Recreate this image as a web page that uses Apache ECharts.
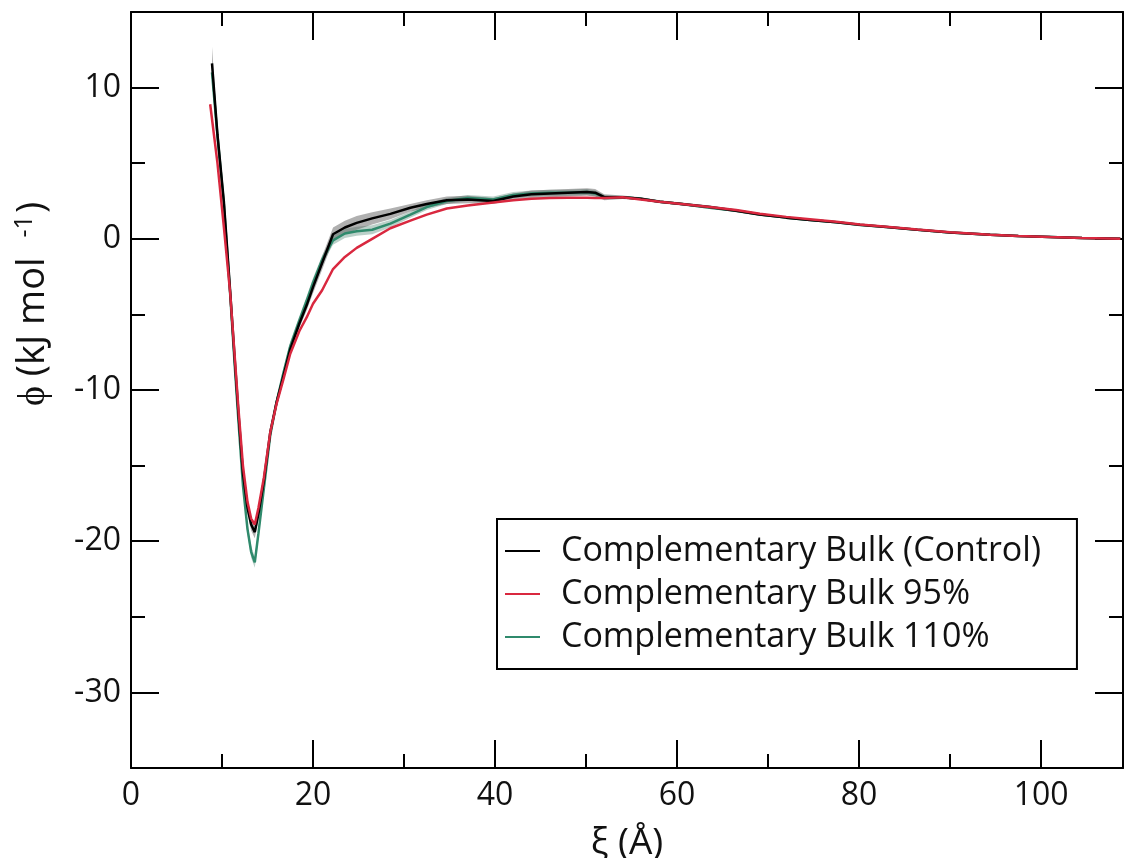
<!DOCTYPE html>
<html>
<head>
<meta charset="utf-8">
<script src="https://cdn.jsdelivr.net/npm/echarts@6/dist/echarts.min.js"></script>
<style>
  html, body { margin: 0; padding: 0; background: #ffffff; }
  #chart { width: 1125px; height: 858px; }
</style>
</head>
<body>
<div id="chart"></div>
<script>
// Axis tick positions
const xLabelTicks = [0, 20, 40, 60, 80, 100];
const xMajorTicks = [0, 20, 40, 60, 80, 100];
const xMinorTicks = [10, 30, 50, 70, 90];
const yLabelTicks = [-30, -20, -10, 0, 10];
const yMajorTicks = [-30, -20, -10, 0, 10];
const yMinorTicks = [-25, -15, -5, 5];

// Separation distance ξ (Å)
const xiControl = [8.9, 9.5, 10.2, 10.9, 11.4, 11.8, 12.3, 12.8, 13.2, 13.6, 14.0, 14.6, 15.3, 16.0, 16.7, 17.5, 18.5, 19.3, 20.0, 21.0, 22.2, 23.5, 24.8, 26.5, 28.5, 30.7, 32.5, 34.7, 37.0, 39.8, 42.0, 44.0, 46.0, 48.0, 50.1, 51.0, 52.0, 54.0, 56.0, 58.1, 60.5, 63.6, 66.5, 69.1, 72.0, 74.6, 77.5, 80.1, 83.0, 86.4, 90.0, 94.4, 97.5, 101.0, 104.5, 108.7];
const xi95 = [8.7, 9.5, 10.2, 10.9, 11.4, 11.8, 12.3, 12.8, 13.2, 13.6, 14.0, 14.6, 15.3, 16.0, 16.7, 17.5, 18.5, 19.3, 20.0, 21.0, 22.2, 23.5, 24.8, 26.5, 28.5, 30.7, 32.5, 34.7, 37.0, 39.8, 42.0, 44.0, 46.0, 48.0, 50.1, 51.0, 52.0, 54.0, 56.0, 58.1, 60.5, 63.6, 66.5, 69.1, 72.0, 74.6, 77.5, 80.1, 83.0, 86.4, 90.0, 94.4, 97.5, 101.0, 104.5, 108.7];
const xi110 = [8.9, 9.5, 10.2, 10.9, 11.4, 11.8, 12.3, 12.8, 13.2, 13.6, 14.0, 14.6, 15.3, 16.0, 16.7, 17.5, 18.5, 19.3, 20.0, 21.0, 22.2, 23.5, 24.8, 26.5, 28.5, 30.7, 32.5, 34.7, 37.0, 39.8, 42.0, 44.0, 46.0, 48.0, 50.1, 51.0, 52.0, 54.0, 56.0, 58.1, 60.5, 63.6, 66.5, 69.1, 72.0, 74.6, 77.5, 80.1, 83.0, 86.4, 90.0, 94.4, 97.5, 101.0, 104.5, 108.7];

// Potential of mean force ϕ (kJ/mol)
const phiControl = [11.6, 6.9, 2.5, -3.5, -8.0, -11.5, -15.5, -17.8, -18.9, -19.4, -18.2, -16.0, -12.8, -10.8, -9.2, -7.3, -5.6, -4.4, -3.2, -1.6, 0.3, 0.75, 1.05, 1.35, 1.65, 2.05, 2.3, 2.55, 2.6, 2.5, 2.8, 2.95, 3.0, 3.05, 3.1, 3.05, 2.75, 2.75, 2.65, 2.45, 2.3, 2.1, 1.85, 1.6, 1.4, 1.25, 1.1, 0.93, 0.78, 0.6, 0.42, 0.26, 0.18, 0.12, 0.06, 0.0];
const phi95 = [8.9, 5.0, 0.8, -3.6, -7.8, -11.2, -15.0, -17.4, -18.5, -18.9, -17.8, -15.8, -12.8, -10.9, -9.4, -7.6, -6.1, -5.2, -4.3, -3.4, -2.0, -1.2, -0.6, 0.0, 0.7, 1.2, 1.6, 2.0, 2.2, 2.4, 2.55, 2.65, 2.7, 2.72, 2.72, 2.7, 2.7, 2.75, 2.6, 2.45, 2.3, 2.1, 1.9, 1.65, 1.45, 1.3, 1.12, 0.95, 0.8, 0.62, 0.44, 0.27, 0.19, 0.12, 0.06, 0.0];
const phi110 = [11.0, 6.8, 2.3, -3.7, -8.4, -12.0, -16.3, -19.2, -20.7, -21.4, -19.5, -16.5, -13.0, -10.8, -9.0, -7.1, -5.4, -4.1, -2.9, -1.4, -0.1, 0.35, 0.5, 0.6, 1.0, 1.6, 2.1, 2.5, 2.7, 2.6, 2.9, 3.0, 3.05, 3.05, 3.1, 3.0, 2.75, 2.75, 2.65, 2.45, 2.3, 2.05, 1.85, 1.6, 1.4, 1.25, 1.1, 0.92, 0.78, 0.6, 0.42, 0.26, 0.18, 0.12, 0.06, 0.0];

// Statistical uncertainty (half-width of the shaded band)
const errControl = [1.1, 0.6, 0.4, 0.3, 0.3, 0.3, 0.3, 0.35, 0.4, 0.4, 0.35, 0.3, 0.3, 0.3, 0.3, 0.3, 0.3, 0.35, 0.4, 0.45, 0.45, 0.45, 0.45, 0.4, 0.35, 0.25, 0.25, 0.25, 0.25, 0.2, 0.2, 0.25, 0.25, 0.25, 0.25, 0.25, 0.2, 0.12, 0.1, 0.1, 0.1, 0.1, 0.1, 0.1, 0.08, 0.08, 0.06, 0.05, 0.05, 0.05, 0.05, 0.04, 0.04, 0.03, 0.03, 0.03];
const err110 = [0.5, 0.4, 0.3, 0.3, 0.3, 0.3, 0.3, 0.35, 0.4, 0.35, 0.35, 0.3, 0.3, 0.3, 0.3, 0.3, 0.3, 0.3, 0.3, 0.3, 0.3, 0.3, 0.3, 0.3, 0.25, 0.2, 0.2, 0.2, 0.2, 0.2, 0.2, 0.2, 0.2, 0.2, 0.2, 0.2, 0.15, 0.1, 0.08, 0.08, 0.08, 0.08, 0.06, 0.06, 0.05, 0.05, 0.05, 0.04, 0.04, 0.04, 0.03, 0.03, 0.03, 0.03, 0.03, 0.03];

const seriesNames = ['Complementary Bulk (Control)', 'Complementary Bulk 95%', 'Complementary Bulk 110%'];
const colors = { control: '#000000', p95: '#d9283f', p110: '#2f8a6c' };

const FONT = 'Open Sans';

function pairs(xs, ys) { return xs.map((x, i) => [x, ys[i]]); }

// Shaded band drawn as one polygon through the axis scales
function bandSeries(xs, ys, es, fill) {
  return {
    type: 'custom',
    silent: true,
    clip: true,
    z: 1,
    data: xs.map((x, i) => [x, ys[i] - es[i], ys[i] + es[i]]),
    encode: { x: 0, y: [1, 2] },
    renderItem: function (params, api) {
      if (params.dataIndex !== 0) return null;
      const upper = xs.map((x, i) => api.coord([x, ys[i] + es[i]]));
      const lower = xs.map((x, i) => api.coord([x, ys[i] - es[i]])).reverse();
      return {
        type: 'polygon',
        shape: { points: upper.concat(lower) },
        style: { fill: fill, stroke: null }
      };
    }
  };
}

const frameStyle = { color: '#000', width: 2 };

function xAxisDef(pos, ticks, len, labels, showLine) {
  return {
    type: 'value', position: pos, min: 0, max: 109,
    axisLine: { show: showLine, onZero: false, lineStyle: frameStyle },
    axisTick: { show: true, inside: true, length: len, customValues: ticks, lineStyle: { color: '#000', width: 2 } },
    axisLabel: labels ? {
      show: true, customValues: labels, margin: 12,
      fontFamily: FONT, fontSize: 32, color: '#111'
    } : { show: false },
    splitLine: { show: false }
  };
}

function yAxisDef(pos, ticks, len, labels, showLine) {
  return {
    type: 'value', position: pos, min: -35, max: 15,
    axisLine: { show: showLine, onZero: false, lineStyle: frameStyle },
    axisTick: { show: true, inside: true, length: len, customValues: ticks, lineStyle: { color: '#000', width: 2 } },
    axisLabel: labels ? {
      show: true, customValues: labels, margin: 10,
      fontFamily: FONT, fontSize: 32, color: '#111'
    } : { show: false },
    splitLine: { show: false }
  };
}

const xBottom = xAxisDef('bottom', xMinorTicks, 14, xLabelTicks, true);
xBottom.name = 'ξ (Å)';
xBottom.nameLocation = 'middle';
xBottom.nameGap = 57;
xBottom.nameTextStyle = { fontFamily: FONT, fontSize: 37, color: '#111' };

const yLeft = yAxisDef('left', yMinorTicks, 14, yLabelTicks, true);
yLeft.name = '{a|ϕ (kJ mol }{s|-1}{a|)}';
yLeft.nameLocation = 'middle';
yLeft.nameGap = 76;
yLeft.nameTextStyle = {
  padding: [0, 0, 0, 172],
  rich: {
    a: { fontFamily: FONT, fontSize: 38, color: '#111' },
    s: { fontFamily: FONT, fontSize: 25, color: '#111', verticalAlign: 'top', padding: [0, 2, 18, 10] }
  }
};

const option = {
  backgroundColor: '#ffffff',
  animation: false,
  grid: { left: 131, right: 2, top: 12, bottom: 90, containLabel: false, outerBoundsMode: 'none' },
  xAxis: [
    xBottom,
    xAxisDef('bottom', xMajorTicks, 28, null, false),
    xAxisDef('top', xMinorTicks, 14, null, true),
    xAxisDef('top', xMajorTicks, 28, null, false)
  ],
  yAxis: [
    yLeft,
    yAxisDef('left', yMajorTicks, 28, null, false),
    yAxisDef('right', yMinorTicks, 14, null, true),
    yAxisDef('right', yMajorTicks, 28, null, false)
  ],
  legend: {
    data: seriesNames,
    orient: 'vertical',
    left: 497, top: 519,
    backgroundColor: '#ffffff',
    borderColor: '#000', borderWidth: 2, borderRadius: 0,
    padding: [15, 36, 15, 8],
    itemGap: 9,
    itemWidth: 35, itemHeight: 2,
    icon: 'rect',
    textStyle: { fontFamily: FONT, fontSize: 34, color: '#111', lineHeight: 34, padding: [0, 0, 0, 16] }
  },
  series: [
    bandSeries(xi110, phi110, err110, 'rgba(60,120,100,0.35)'),
    bandSeries(xiControl, phiControl, errControl, 'rgba(80,80,80,0.45)'),
    {
      name: seriesNames[2], type: 'line', data: pairs(xi110, phi110),
      showSymbol: false, symbol: 'none', z: 3,
      lineStyle: { color: colors.p110, width: 2.5 }, itemStyle: { color: colors.p110 }
    },
    {
      name: seriesNames[0], type: 'line', data: pairs(xiControl, phiControl),
      showSymbol: false, symbol: 'none', z: 4,
      lineStyle: { color: colors.control, width: 2.5 }, itemStyle: { color: colors.control }
    },
    {
      name: seriesNames[1], type: 'line', data: pairs(xi95, phi95),
      showSymbol: false, symbol: 'none', z: 5,
      lineStyle: { color: colors.p95, width: 2.5 }, itemStyle: { color: colors.p95 }
    }
  ]
};

const chart = echarts.init(document.getElementById('chart'), null, { renderer: 'canvas' });
chart.setOption(option);
</script>
</body>
</html>
